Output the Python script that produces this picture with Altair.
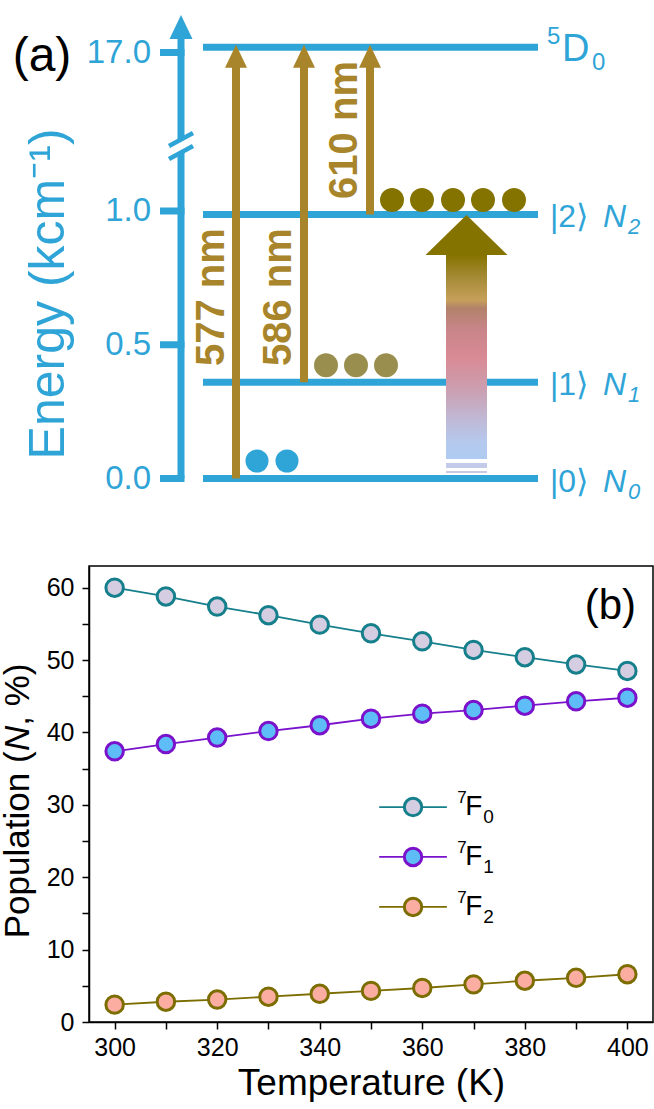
import altair as alt
import pandas as pd

FONT = "Liberation Sans"

# ======================= panel (b) values =======================
temperature_K = [300, 310, 320, 330, 340, 350, 360, 370, 380, 390, 400]
population_7F0 = [60.0, 58.8, 57.4, 56.2, 54.9, 53.7, 52.6, 51.4, 50.4, 49.4, 48.5]
population_7F1 = [37.4, 38.4, 39.3, 40.2, 41.0, 41.9, 42.6, 43.1, 43.7, 44.3, 44.8]
population_7F2 = [2.4, 2.8, 3.1, 3.5, 3.9, 4.3, 4.7, 5.2, 5.7, 6.1, 6.6]
series_labels = ["⁷F₀", "⁷F₁", "⁷F₂"]
legend_sup = ["7", "7", "7"]
legend_main = ["F", "F", "F"]
legend_sub = ["0", "1", "2"]
x_tick_values = [300, 310, 320, 330, 340, 350, 360, 370, 380, 390, 400]
y_tick_values = [0, 5, 10, 15, 20, 25, 30, 35, 40, 45, 50, 55, 60]
x_domain_b = [295, 405]
y_domain_b = [0, 63]

legend_rows_y = [29.7, 22.8, 15.9]
legend_line_T = [351.6, 364.8]
legend_marker_T = [358.2]
legend_text_T = [366.8]
tag_b = ["(b)"]
tag_b_T = [396.7]
tag_b_y = [57.5]
y_title_parts = ["Population (", "N", ", %)"]
y_title_start = [11.57, 37.43, 40.93]
y_title_T = [283.3]

# styles (b)
line_colors = ["#157f8c", "#7a12cc", "#7c6d00"]
fill_colors = ["#d5cde2", "#5ebdf7", "#fbada2"]

# ======================= panel (a) values =======================
# energies in kcm^-1 ; horizontal positions in diagram units
level_energy = [0.0, 0.36, 0.987, 17.02]
level_kets = ["|0⟩", "|1⟩", "|2⟩"]
level_pops = ["N", "N", "N"]
level_pop_sub = ["0", "1", "2"]
top_sup = ["5"]
top_main = ["D"]
top_sub = ["0"]
level_span = [203, 538]

axis_pos = [181]
axis_pieces_from = [0.0, 8.22]
axis_pieces_to = [6.855, 17.055]
axis_head_e = [17.097]
axis_break_x = [169, 193]
axis_break_from = [6.249, 7.562]
axis_break_to = [7.562, 8.874]
tick_values = [0.0, 0.5, 1.0, 17.0]
tick_labels = ["0.0", "0.5", "1.0", "17.0"]
tick_span = [160, 184.5]
tick_label_x = [151]
energy_title = ["Energy (kcm⁻¹)"]
energy_title_x = [49]
energy_title_e = [0.69]
tag_a = ["(a)"]
tag_a_x = [42]
tag_a_e = [16.55]

transition_x = [236, 304, 370]
transition_from = [0.0, 0.36, 0.987]
transition_to = [17.02, 17.02, 17.02]
transition_labels = ["577 nm", "586 nm", "610 nm"]
transition_label_x = [212, 279, 345]
transition_label_e = [0.678, 0.678, 9.18]

dots_N0_x = [257, 287]
dots_N1_x = [326, 356, 386]
dots_N2_x = [392, 422, 453, 483, 514]

pump_x = [446, 487]
pump_center_x = [466.5]
pump_shaft_e = [0.0729, 0.8355]
pump_head_e = [0.910]
pump_stripes_from = [0.039, 0.0206]
pump_stripes_to = [0.058, 0.028]

ket_x = [550]
pop_x = [603]
pop_sub_x = [628]
top_sup_x = [547]
top_main_x = [562]
top_sub_x = [592]

# styles (a)
BLUE = "#2fa4d7"
GOLD = "#a8852b"
OLIVE_LIGHT = "#9a8e4e"
OLIVE_DARK = "#857300"
gradient_stops = [
    (0.0, "#afcbf1"), (0.078, "#b4c9ee"), (0.206, "#c1b7d3"), (0.338, "#cb9fb1"),
    (0.5, "#d98a94"), (0.632, "#c9858a"), (0.74, "#b2826a"), (0.779, "#c6a05a"),
    (0.892, "#a48a35"), (1.0, "#857300"),
]
stripe_colors = ["#c3cbe9", "#cbc8e3"]

# ======================= panel (a) =======================
# the panel's plot area starts where panel (b)'s plot area starts (diagram unit 89)
xa = alt.Scale(domain=[89, 654], nice=False, zero=False)
ya = alt.Scale(domain=[0, 1, 17, 17.2], range=[478.5, 211, 52.5, 0], nice=False, zero=False)


def XA(f):
    return alt.X(f, type="quantitative", scale=xa, axis=None)


def YA(f):
    return alt.Y(f, type="quantitative", scale=ya, axis=None)


levels_df = pd.DataFrame({"e": level_energy, "x0": level_span[0], "x1": level_span[1]})
levels = alt.Chart(levels_df).mark_rule(color=BLUE, strokeWidth=7).encode(
    x=XA("x0"), x2="x1", y=YA("e"))

axis_df = pd.DataFrame({"x": axis_pos * 2, "e0": axis_pieces_from, "e1": axis_pieces_to})
axis_line = alt.Chart(axis_df).mark_rule(color=BLUE, strokeWidth=7).encode(
    x=XA("x"), y=YA("e0"), y2="e1")

break_df = pd.DataFrame({"xa": [axis_break_x[0]] * 2, "xb": [axis_break_x[1]] * 2,
                         "ea": axis_break_from, "eb": axis_break_to})
axis_break = alt.Chart(break_df).mark_rule(color=BLUE, strokeWidth=4.5).encode(
    x=XA("xa"), x2="xb", y=YA("ea"), y2="eb")

head_df = pd.DataFrame({"x": axis_pos, "e": axis_head_e})
axis_head = alt.Chart(head_df).mark_point(
    shape="M-1,1.043L0,-1.043L1,1.043Z", size=529, filled=True, color=BLUE, opacity=1,
    strokeWidth=0).encode(x=XA("x"), y=YA("e"))

ticks_df = pd.DataFrame({"e": tick_values, "x0": tick_span[0], "x1": tick_span[1],
                         "lab": tick_labels, "lx": tick_label_x[0]})
ticks = alt.Chart(ticks_df).mark_rule(color=BLUE, strokeWidth=7).encode(
    x=XA("x0"), x2="x1", y=YA("e"))
tick_text = alt.Chart(ticks_df).mark_text(
    color=BLUE, font=FONT, fontSize=33, align="right", baseline="middle").encode(
    x=XA("lx"), y=YA("e"), text="lab")

etitle_df = pd.DataFrame({"t": energy_title, "x": energy_title_x, "e": energy_title_e})
etitle = alt.Chart(etitle_df).mark_text(
    color=BLUE, font=FONT, fontSize=50, angle=270, align="center", baseline="middle").encode(
    x=XA("x"), y=YA("e"), text="t")

taga_df = pd.DataFrame({"t": tag_a, "x": tag_a_x, "e": tag_a_e})
taga = alt.Chart(taga_df).mark_text(
    color="black", font=FONT, fontSize=48, align="center", baseline="middle").encode(
    x=XA("x"), y=YA("e"), text="t")

dot_layers = []
for xs_, lev, col, sz, off in [
    (dots_N0_x, level_energy[0], BLUE, 531, -17.5),
    (dots_N1_x, level_energy[1], OLIVE_LIGHT, 573, -17),
    (dots_N2_x, level_energy[2], OLIVE_DARK, 573, -14.5),
]:
    ddf = pd.DataFrame({"x": xs_, "e": lev})
    dot_layers.append(alt.Chart(ddf).mark_point(
        shape="circle", filled=True, size=sz, color=col, opacity=1, strokeWidth=0,
        yOffset=off).encode(x=XA("x"), y=YA("e")))

tr_df = pd.DataFrame({"x": transition_x, "e0": transition_from, "e1": transition_to,
                      "lab": transition_labels, "lx": transition_label_x,
                      "le": transition_label_e})
tr_shaft = alt.Chart(tr_df).mark_rule(color=GOLD, strokeWidth=8, y2Offset=14).encode(
    x=XA("x"), y=YA("e0"), y2="e1")
tr_head = alt.Chart(tr_df).mark_point(
    shape="M-1,1.045L0,-1.045L1,1.045Z", size=484, filled=True, color=GOLD, opacity=1,
    strokeWidth=0, yOffset=9).encode(x=XA("x"), y=YA("e1"))
tr_text = alt.Chart(tr_df).mark_text(
    color=GOLD, font=FONT, fontSize=40, fontWeight="bold", angle=270, align="center",
    baseline="middle").encode(x=XA("lx"), y=YA("le"), text="lab")

pump_df = pd.DataFrame({"x0": [pump_x[0]], "x1": [pump_x[1]],
                        "e0": [pump_shaft_e[0]], "e1": [pump_shaft_e[1]]})
pump_shaft = alt.Chart(pump_df).mark_rect(
    fill=alt.LinearGradient(
        gradient="linear", x1=0, x2=0, y1=1, y2=0,
        stops=[alt.GradientStop(offset=o, color=c) for o, c in gradient_stops])).encode(
    x=XA("x0"), x2="x1", y=YA("e0"), y2="e1")
stripe_layers = []
for i in range(2):
    sdf = pd.DataFrame({"x0": [pump_x[0]], "x1": [pump_x[1]],
                        "e0": [pump_stripes_from[i]], "e1": [pump_stripes_to[i]]})
    stripe_layers.append(alt.Chart(sdf).mark_rect(fill=stripe_colors[i]).encode(
        x=XA("x0"), x2="x1", y=YA("e0"), y2="e1"))
phead_df = pd.DataFrame({"x": pump_center_x, "e": pump_head_e})
pump_head = alt.Chart(phead_df).mark_point(
    shape="M-1,0.488L0,-0.488L1,0.488Z", size=6724, filled=True, color=OLIVE_DARK,
    opacity=1, strokeWidth=0).encode(x=XA("x"), y=YA("e"))

ket_df = pd.DataFrame({"t": level_kets, "e": level_energy[:3], "x": ket_x[0],
                       "n": level_pops, "nx": pop_x[0], "sb": level_pop_sub,
                       "sx": pop_sub_x[0]})
ket_text = alt.Chart(ket_df).mark_text(
    color=BLUE, font=FONT, fontSize=32, align="left", baseline="middle", dy=3).encode(
    x=XA("x"), y=YA("e"), text="t")
pop_text = alt.Chart(ket_df).mark_text(
    color=BLUE, font=FONT, fontSize=32, fontStyle="italic", align="left", baseline="middle",
    dy=3).encode(x=XA("nx"), y=YA("e"), text="n")
pop_sub_text = alt.Chart(ket_df).mark_text(
    color=BLUE, font=FONT, fontSize=22, fontStyle="italic", align="left", baseline="middle",
    dy=13).encode(x=XA("sx"), y=YA("e"), text="sb")
top_df = pd.DataFrame({"sup": top_sup, "main": top_main, "sub": top_sub,
                       "e": level_energy[3:], "xs": top_sup_x, "xm": top_main_x,
                       "xb": top_sub_x})
top_sup_text = alt.Chart(top_df).mark_text(
    color=BLUE, font=FONT, fontSize=24, align="left", baseline="middle", dy=-10).encode(
    x=XA("xs"), y=YA("e"), text="sup")
top_main_text = alt.Chart(top_df).mark_text(
    color=BLUE, font=FONT, fontSize=38, align="left", baseline="middle", dy=3).encode(
    x=XA("xm"), y=YA("e"), text="main")
top_sub_text = alt.Chart(top_df).mark_text(
    color=BLUE, font=FONT, fontSize=24, align="left", baseline="middle", dy=16).encode(
    x=XA("xb"), y=YA("e"), text="sub")

panel_a = alt.layer(
    levels, axis_line, axis_break, axis_head, ticks, tick_text, etitle, taga,
    *dot_layers, pump_shaft, *stripe_layers, pump_head, tr_shaft, tr_head, tr_text,
    ket_text, pop_text, pop_sub_text, top_sup_text, top_main_text, top_sub_text,
).properties(width=565, height=520)

# ======================= panel (b) =======================
df_b = pd.DataFrame({
    "T": temperature_K * 3,
    "P": population_7F0 + population_7F1 + population_7F2,
    "s": [series_labels[0]] * 11 + [series_labels[1]] * 11 + [series_labels[2]] * 11,
})
xs = alt.Scale(domain=x_domain_b, nice=False, zero=False)
ys = alt.Scale(domain=y_domain_b, nice=False, zero=False)
stroke_scale = alt.Scale(domain=series_labels, range=line_colors)
fill_scale = alt.Scale(domain=series_labels, range=fill_colors)

axis_common = dict(domainColor="black", domainWidth=1.5, tickColor="black", tickWidth=1.5,
                   tickSize=7, labelFont=FONT, labelFontSize=25, labelColor="black",
                   grid=False, labelOverlap=False)
x_axis = alt.Axis(values=x_tick_values, format="d",
                  labelExpr="datum.value % 20 == 0 ? datum.label : ''",
                  labelPadding=6, title="Temperature (K)", titleFont=FONT,
                  titleFontSize=37, titleFontWeight="normal", titleColor="black",
                  titlePadding=5, **axis_common)
y_axis = alt.Axis(values=y_tick_values, format="d",
                  labelExpr="datum.value % 10 == 0 ? datum.label : ''",
                  labelPadding=8, title="", **axis_common)


def XB(f):
    return alt.X(f, type="quantitative", scale=xs, axis=x_axis)


def YB(f):
    return alt.Y(f, type="quantitative", scale=ys, axis=y_axis)


lines_b = alt.Chart(df_b).mark_line(strokeWidth=1.8).encode(
    x=XB("T"), y=YB("P"),
    color=alt.Color("s:N", scale=stroke_scale, legend=None))
points_b = alt.Chart(df_b).mark_point(
    shape="circle", filled=True, size=305, strokeWidth=3, opacity=1).encode(
    x=XB("T"), y=YB("P"),
    fill=alt.Fill("s:N", scale=fill_scale, legend=None),
    stroke=alt.Stroke("s:N", scale=stroke_scale, legend=None))

leg_df = pd.DataFrame({"s": series_labels, "y": legend_rows_y,
                       "x0": legend_line_T[0], "x1": legend_line_T[1],
                       "xm": legend_marker_T[0], "xt": legend_text_T[0],
                       "sup": legend_sup, "main": legend_main, "sub": legend_sub})
leg_line = alt.Chart(leg_df).mark_rule(strokeWidth=1.8).encode(
    x=XB("x0"), x2="x1", y=YB("y"),
    color=alt.Color("s:N", scale=stroke_scale, legend=None))
leg_pt = alt.Chart(leg_df).mark_point(
    shape="circle", filled=True, size=305, strokeWidth=3, opacity=1).encode(
    x=XB("xm"), y=YB("y"),
    fill=alt.Fill("s:N", scale=fill_scale, legend=None),
    stroke=alt.Stroke("s:N", scale=stroke_scale, legend=None))
leg_sup = alt.Chart(leg_df).mark_text(
    font=FONT, fontSize=17, align="left", baseline="middle", color="black",
    dy=-9).encode(x=XB("xt"), y=YB("y"), text="sup")
leg_main = alt.Chart(leg_df).mark_text(
    font=FONT, fontSize=28, align="left", baseline="middle", color="black",
    dx=8).encode(x=XB("xt"), y=YB("y"), text="main")
leg_sub = alt.Chart(leg_df).mark_text(
    font=FONT, fontSize=19, align="left", baseline="middle", color="black",
    dx=26, dy=10).encode(x=XB("xt"), y=YB("y"), text="sub")

tagb_df = pd.DataFrame({"t": tag_b, "x": tag_b_T, "y": tag_b_y})
tagb = alt.Chart(tagb_df).mark_text(
    font=FONT, fontSize=42, align="center", baseline="middle", color="black").encode(
    x=XB("x"), y=YB("y"), text="t")

yt_df = pd.DataFrame({"t": y_title_parts, "y": y_title_start, "x": y_title_T[0],
                      "k": ["up", "it", "up"]})
yt_up = alt.Chart(yt_df).transform_filter("datum.k == 'up'").mark_text(
    font=FONT, fontSize=35, angle=270, align="left", baseline="alphabetic",
    color="black").encode(x=XB("x"), y=YB("y"), text="t")
yt_it = alt.Chart(yt_df).transform_filter("datum.k == 'it'").mark_text(
    font=FONT, fontSize=35, fontStyle="italic", angle=270, align="left",
    baseline="alphabetic", color="black").encode(x=XB("x"), y=YB("y"), text="t")

panel_b = alt.layer(
    lines_b, points_b, leg_line, leg_pt, leg_sup, leg_main, leg_sub, tagb, yt_up, yt_it
).properties(width=564, height=456,
             view=alt.ViewBackground(stroke="black", strokeWidth=1.5))

chart = alt.vconcat(panel_a, panel_b, spacing=45).resolve_scale(
    fill="independent", stroke="independent", color="independent"
).properties(padding=0, background="white").configure_view(strokeWidth=0).configure_axis(grid=False)

chart.save("out.html", embed_options={"renderer": "svg", "actions": False})
